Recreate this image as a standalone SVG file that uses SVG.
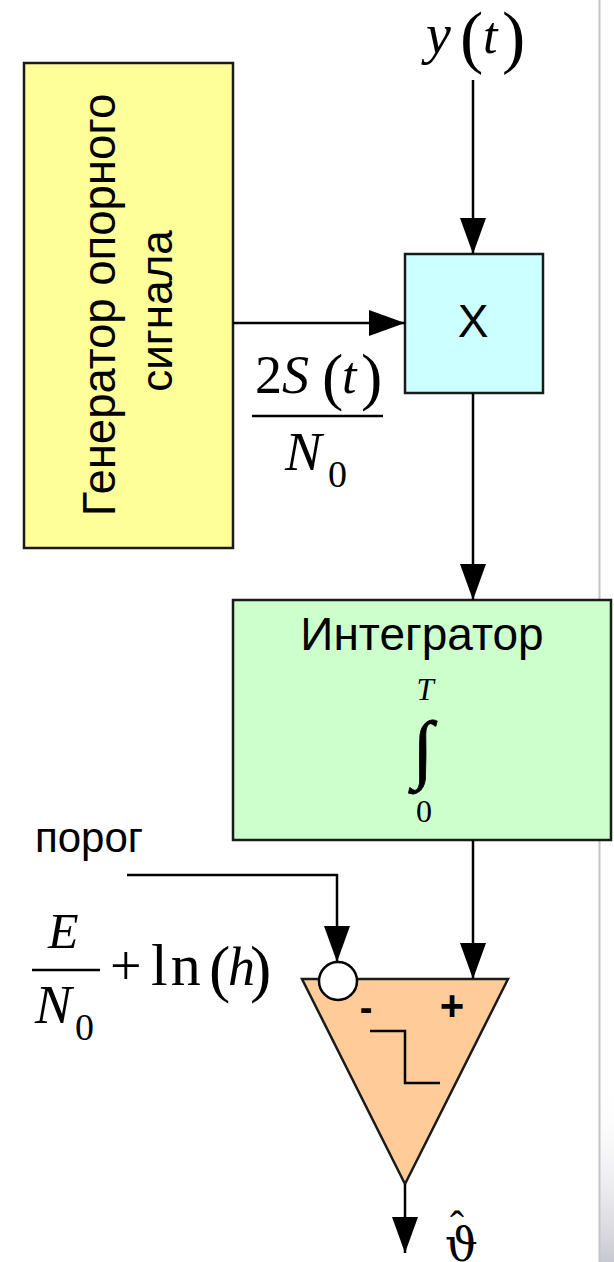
<svg xmlns="http://www.w3.org/2000/svg" width="614" height="1262" viewBox="0 0 614 1262">
  <style>
    .box { stroke: #1a1a1a; stroke-width: 2.5; }
    .sans { font-family: "Liberation Sans", Arial, sans-serif; fill: #000; }
    .serif { font-family: "Liberation Serif", "Times New Roman", "DejaVu Serif", serif; fill: #000; }
    .it { font-style: italic; }
    .wire { fill: none; stroke: #000; stroke-width: 2.5; }
  </style>
  <defs>
    <marker id="arrow" markerUnits="userSpaceOnUse" markerWidth="36" markerHeight="26" refX="36" refY="13" orient="auto">
      <path d="M0,0 L36,13 L0,26 z" fill="#000"/>
    </marker>
    <linearGradient id="edge" x1="0" y1="0" x2="0" y2="1">
      <stop offset="0" stop-color="#ffffff" stop-opacity="0"/>
      <stop offset="1" stop-color="#c8c8d0"/>
    </linearGradient>
  </defs>
  <rect x="0" y="0" width="614" height="1262" fill="#ffffff"/>
  <!-- window edge artifacts -->
  <rect x="600" y="1080" width="14" height="182" fill="url(#edge)"/>
  <line x1="599.5" y1="0" x2="599.5" y2="1262" stroke="#c4c4cc" stroke-width="2"/>

  <g id="generator">
    <rect class="box" x="24" y="63" width="209" height="485" fill="#FFFF99"/>
    <text class="sans" font-size="45.5" text-anchor="middle" transform="translate(115,305) rotate(-90)">Генератор опорного</text>
    <text class="sans" font-size="44" text-anchor="middle" transform="translate(172,311) rotate(-90)">сигнала</text>
  </g>

  <g id="multiplier">
    <rect class="box" x="405" y="254" width="138" height="139" fill="#CCFFFF"/>
    <text class="sans" font-size="46" text-anchor="middle" x="473" y="337">X</text>
  </g>

  <g id="integrator">
    <rect class="box" x="233" y="600" width="378" height="240" fill="#CCFFCC"/>
    <text class="sans" font-size="46" text-anchor="middle" x="422" y="650">Интегратор</text>
    <text class="serif it" font-size="31" text-anchor="middle" x="425" y="700">T</text>
    <text class="serif" font-size="76" text-anchor="middle" x="423" y="774" stroke="#000" stroke-width="0.8">∫</text>
    <text class="serif" font-size="32" text-anchor="middle" x="424" y="822">0</text>
  </g>

  <g id="comparator">
    <polygon class="box" points="302,979 508,979 405,1184" fill="#FFCC99" stroke-linejoin="miter"/>
    <circle cx="338" cy="981" r="19" fill="#ffffff" stroke="#000" stroke-width="2.5"/>
    <text class="sans" font-size="38" font-weight="bold" text-anchor="middle" x="366" y="1021">-</text>
    <text class="sans" font-size="42" font-weight="bold" text-anchor="middle" x="452" y="1020">+</text>
    <polyline class="wire" points="370,1031 405,1031 405,1083 440,1083"/>
  </g>

  <g id="label-y">
    <text class="serif it" font-size="56" x="426" y="53">y</text>
    <text class="serif" font-size="70" x="460" y="60">(</text>
    <text class="serif it" font-size="52" x="483" y="53">t</text>
    <text class="serif" font-size="70" x="502" y="60">)</text>
  </g>

  <g id="label-reference">
    <text class="serif" font-size="54" x="255" y="393">2</text>
    <text class="serif it" font-size="54" x="282" y="393">S</text>
    <text class="serif" font-size="64" x="322" y="398">(</text>
    <text class="serif it" font-size="52" x="342" y="393">t</text>
    <text class="serif" font-size="64" x="361" y="398">)</text>
    <line x1="252" y1="416" x2="383" y2="416" stroke="#000" stroke-width="2.5"/>
    <text class="serif it" font-size="55" x="285" y="470">N</text>
    <text class="serif" font-size="38" x="328" y="487">0</text>
  </g>

  <g id="label-threshold">
    <text class="sans" font-size="42" x="35" y="852">порог</text>
    <text class="serif it" font-size="50" x="48" y="948">E</text>
    <line x1="32" y1="970" x2="100" y2="970" stroke="#000" stroke-width="2.5"/>
    <text class="serif it" font-size="55" x="35" y="1023">N</text>
    <text class="serif" font-size="38" x="75" y="1040">0</text>
    <text class="serif" font-size="56" x="110" y="985">+</text>
    <text class="serif" font-size="60" x="151" y="985" letter-spacing="3">ln</text>
    <text class="serif" font-size="64" x="209" y="990">(</text>
    <text class="serif it" font-size="54" x="228" y="985">h</text>
    <text class="serif" font-size="64" x="250" y="990">)</text>
  </g>

  <g id="label-output">
    <text font-family="'DejaVu Serif', serif" font-size="46" x="445" y="1261">ϑ</text>
    <text class="serif" font-size="42" x="450" y="1240">ˆ</text>
  </g>

  <g id="connectors">
    <line class="wire" x1="473" y1="80" x2="473" y2="254" marker-end="url(#arrow)"/>
    <line class="wire" x1="233" y1="323" x2="405" y2="323" marker-end="url(#arrow)"/>
    <line class="wire" x1="473" y1="393" x2="473" y2="600" marker-end="url(#arrow)"/>
    <line class="wire" x1="473" y1="840" x2="473" y2="979" marker-end="url(#arrow)"/>
    <polyline class="wire" points="127,875 337,875 337,962" marker-end="url(#arrow)"/>
    <line class="wire" x1="405" y1="1184" x2="405" y2="1253" marker-end="url(#arrow)"/>
  </g>
</svg>
